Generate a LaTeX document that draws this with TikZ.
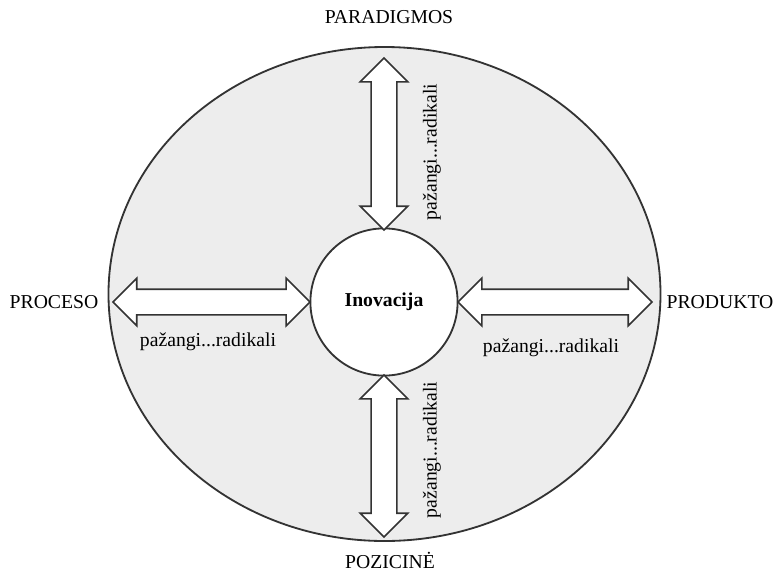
\documentclass[tikz,border=0pt]{standalone}
\usepackage{fontspec}
\setmainfont{Liberation Serif}
\usepackage{xcolor}
\usetikzlibrary{shapes.arrows,positioning}
\definecolor{ringgray}{HTML}{EDEDED}
\definecolor{linegray}{HTML}{333333}

\begin{document}
\begin{tikzpicture}[
  font=\fontsize{14}{16}\selectfont,
  arr/.style={double arrow,draw=linegray,fill=white,line width=1.1pt,
    inner xsep=0pt,inner ysep=0.3cm,
    minimum width=1.15cm,double arrow head extend=0.275cm,double arrow head indent=0pt,
    double arrow tip angle=90},
  lbl/.style={inner sep=1pt}]
 \useasboundingbox (-9.6,-6.725) rectangle (9.825,7.55);
 % ---- outer ring ----
 \draw[draw=linegray,fill=ringgray,line width=1.3pt] (0.0125,0.2) ellipse (6.9cm and 6.175cm);
 \node[circle,draw=linegray,fill=white,line width=1.3pt,minimum size=3.68cm,inner sep=0pt,
   font=\fontsize{14}{16}\selectfont\bfseries] (inov) at (0,0) {Inovacija};
 % ---- arrows ----
 \node[arr,minimum height=4.3cm,rotate=90] (aup) at (0,3.95) {};
 \node[arr,minimum height=4.05cm,rotate=90] (adn) at (0,-3.85) {};
 \node[arr,minimum height=4.925cm] (alt) at (-4.3125,0) {};
 \node[arr,minimum height=4.85cm] (art) at (4.275,0) {};
 % ---- labels ----
 \node[lbl] (par) at (0.125,7.125) {PARADIGMOS};
 \node[lbl] (poz) at (0.15,-6.45) {POZICINĖ};
 \node[lbl] (pro) at (-8.25,0) {PROCESO};
 \node[lbl] (prd) at (8.4,0) {PRODUKTO};
 \node[lbl,rotate=90] (lup) at (1.2,3.75) {pažangi...radikali};
 \node[lbl,rotate=90] (ldn) at (1.2,-3.7) {pažangi...radikali};
 \node[lbl] (llt) at (-4.4,-1.0) {pažangi...radikali};
 \node[lbl] (lrt) at (4.175,-1.15) {pažangi...radikali};
\end{tikzpicture}
\end{document}
